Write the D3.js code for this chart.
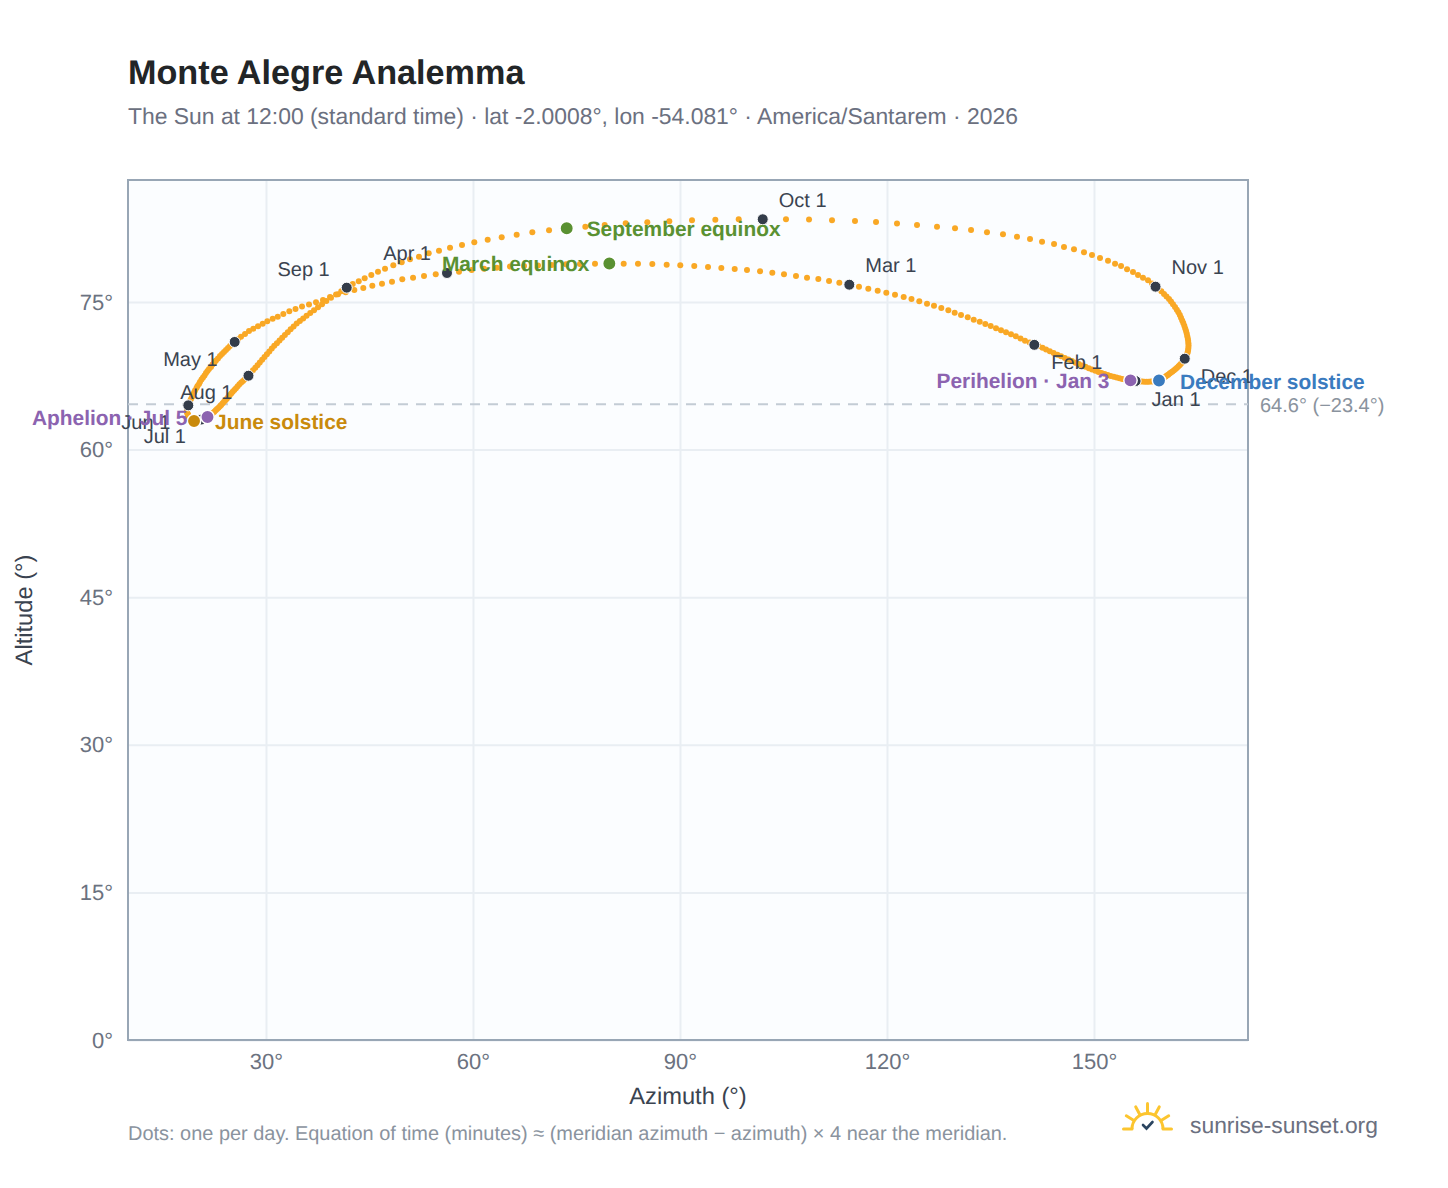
<!DOCTYPE html>
<html><head><meta charset="utf-8">
<script src="https://cdn.jsdelivr.net/npm/d3@7"></script>
<style>html,body{margin:0;padding:0;background:#fff}svg{display:block;font-family:"Liberation Sans",Arial,sans-serif;text-rendering:geometricPrecision}</style>
</head><body><svg id="c" width="1448" height="1188"></svg>
<script>
const titleText = "Monte Alegre Analemma";
const subtitleText = "The Sun at 12:00 (standard time) · lat -2.0008°, lon -54.081° · America/Santarem · 2026";
const footerText = "Dots: one per day. Equation of time (minutes) ≈ (meridian azimuth − azimuth) × 4 near the meridian.";
const brandText = "sunrise-sunset.org";
const xTicks = [30,60,90,120,150];
const yTicks = [0,15,30,45,60,75];
const monthNames = ["Jan","Feb","Mar","Apr","May","Jun","Jul","Aug","Sep","Oct","Nov","Dec"];

// Daily azimuth (degrees), month by month
const azJan = [156.03,155.70,155.29,154.89,154.50,154.09,153.70,153.28,152.86,152.42,151.99,151.55,151.10,150.65,150.19,149.71,149.25,148.77,148.29,147.80,147.31,146.80,146.29,145.77,145.23,144.70,144.15,143.60,143.05,142.54,141.96];
const azFeb = [141.35,140.67,140.00,139.35,138.67,137.97,137.25,136.52,135.80,135.03,134.25,133.44,132.57,131.70,130.73,129.81,128.89,127.87,126.81,125.80,124.68,123.55,122.42,121.16,119.90,118.65,117.29,115.94];
const azMar = [114.54,113.09,111.60,110.05,108.41,106.81,105.07,103.38,101.60,99.71,97.93,95.99,94.06,92.07,90.04,88.07,85.99,83.91,81.84,79.76,77.68,75.51,73.48,71.41,69.42,67.39,65.36,63.44,61.60,59.81,57.97];
const azApr = [56.23,54.60,52.90,51.31,49.75,48.26,46.81,45.41,44.10,42.80,41.55,40.44,39.28,38.26,37.25,36.23,35.22,34.28,33.38,32.51,31.70,30.97,30.19,29.52,28.84,28.16,27.54,26.96,26.38,25.94];
const azMay = [25.46,25.15,24.78,24.49,24.20,23.91,23.62,23.33,23.04,22.75,22.54,22.25,22.03,21.74,21.52,21.30,21.09,20.87,20.65,20.43,20.29,20.07,19.93,19.71,19.57,19.42,19.28,19.13,18.99,18.91,18.84];
const azJun = [18.74,18.67,18.61,18.58,18.55,18.55,18.55,18.58,18.62,18.67,18.72,18.78,18.87,18.94,19.03,19.11,19.20,19.29,19.39,19.48,19.57,19.65,19.74,19.83,19.91,20.00,20.10,20.20,20.32,20.45];
const azJul = [20.58,20.80,21.01,21.26,21.52,21.74,21.93,22.13,22.32,22.52,22.72,22.91,23.12,23.32,23.51,23.71,23.91,24.12,24.32,24.52,24.74,24.96,25.17,25.41,25.65,25.90,26.15,26.41,26.67,26.93,27.20];
const azAug = [27.46,27.81,28.12,28.45,28.77,29.10,29.44,29.78,30.13,30.48,30.84,31.20,31.58,31.96,32.35,32.74,33.15,33.57,34.00,34.45,34.91,35.39,35.88,36.41,36.96,37.54,38.12,38.74,39.42,40.15,40.91];
const azSep = [41.70,42.57,43.44,44.30,45.26,46.23,47.25,48.45,49.67,50.87,52.17,53.58,55.07,56.67,58.41,60.19,62.13,64.16,66.33,68.60,71.02,73.58,76.28,79.09,82.13,85.26,88.45,91.74,95.12,98.51];
const azOct = [101.99,105.36,108.70,112.03,115.36,118.41,121.45,124.35,127.25,129.86,132.18,134.49,136.81,138.84,140.73,142.47,144.21,145.65,147.10,148.55,149.71,150.87,152.03,153.05,153.92,154.79,155.65,156.38,157.10,157.83,158.41];
const azNov = [158.92,159.35,159.76,160.15,160.51,160.87,161.16,161.45,161.74,162.00,162.23,162.44,162.61,162.78,162.94,163.09,163.22,163.34,163.44,163.52,163.60,163.65,163.68,163.70,163.68,163.65,163.60,163.52,163.42,163.29];
const azDec = [163.15,162.99,162.81,162.63,162.44,162.25,162.03,161.82,161.60,161.38,161.16,160.96,160.76,160.57,160.39,160.22,160.05,159.89,159.73,159.57,159.42,159.13,158.84,158.55,158.25,157.94,157.64,157.32,157.00,156.67,156.35];

// Daily altitude (degrees), month by month
const altJan = [66.97,66.99,67.04,67.08,67.13,67.18,67.25,67.32,67.40,67.49,67.58,67.69,67.79,67.90,68.02,68.14,68.27,68.42,68.56,68.70,68.84,69.00,69.15,69.31,69.48,69.65,69.82,69.99,70.18,70.35,70.53];
const altFeb = [70.65,70.88,71.07,71.29,71.53,71.73,71.93,72.14,72.34,72.56,72.77,73.00,73.20,73.45,73.68,73.92,74.16,74.39,74.63,74.83,75.07,75.31,75.51,75.74,75.95,76.15,76.35,76.56];
const altMar = [76.76,76.96,77.14,77.34,77.47,77.65,77.82,77.98,78.12,78.26,78.36,78.46,78.56,78.66,78.73,78.79,78.86,78.90,78.90,78.92,78.90,78.86,78.83,78.76,78.71,78.66,78.61,78.49,78.39,78.26,78.08];
const altApr = [77.95,77.82,77.65,77.47,77.31,77.07,76.86,76.66,76.43,76.22,75.99,75.79,75.51,75.21,74.97,74.75,74.55,74.29,74.06,73.78,73.51,73.31,73.04,72.80,72.53,72.29,72.06,71.75,71.48,71.21];
const altMay = [70.94,70.73,70.53,70.33,70.12,69.92,69.72,69.51,69.26,69.06,68.85,68.65,68.40,68.19,67.99,67.79,67.53,67.33,67.13,66.87,66.67,66.47,66.26,66.01,65.81,65.55,65.35,65.14,64.94,64.79,64.64];
const altJun = [64.50,64.40,64.28,64.18,64.08,63.98,63.87,63.77,63.67,63.57,63.50,63.42,63.34,63.26,63.19,63.13,63.08,63.03,62.99,62.95,62.91,62.91,62.91,62.92,62.93,62.94,62.96,62.98,63.00,63.02];
const altJul = [63.05,63.11,63.17,63.24,63.32,63.42,63.52,63.62,63.74,63.86,63.99,64.13,64.26,64.40,64.54,64.70,64.86,65.02,65.18,65.35,65.52,65.69,65.88,66.06,66.24,66.44,66.63,66.81,66.97,67.16,67.34];
const altAug = [67.51,67.82,68.06,68.33,68.58,68.85,69.13,69.41,69.70,69.98,70.28,70.56,70.82,71.09,71.36,71.64,71.92,72.22,72.52,72.81,73.06,73.33,73.60,73.89,74.17,74.47,74.78,75.10,75.44,75.76,76.09];
const altSep = [76.46,76.83,77.11,77.41,77.75,78.08,78.39,78.73,79.04,79.34,79.61,79.95,80.22,80.52,80.80,81.07,81.33,81.58,81.84,82.09,82.29,82.49,82.65,82.83,83.01,83.10,83.20,83.31,83.37,83.41];
const altOct = [83.41,83.41,83.39,83.31,83.24,83.13,82.98,82.83,82.65,82.49,82.32,82.09,81.88,81.64,81.41,81.13,80.90,80.59,80.36,80.05,79.78,79.47,79.20,78.89,78.66,78.33,78.05,77.75,77.47,77.21,76.88];
const altNov = [76.56,76.32,76.09,75.82,75.56,75.31,75.05,74.78,74.49,74.22,73.95,73.68,73.41,73.13,72.87,72.59,72.32,72.06,71.79,71.53,71.27,71.04,70.81,70.58,70.36,70.14,69.94,69.76,69.57,69.39];
const altDec = [69.24,69.07,68.91,68.74,68.60,68.46,68.32,68.19,68.06,67.94,67.83,67.73,67.62,67.52,67.43,67.35,67.28,67.21,67.14,67.08,67.02,66.98,66.95,66.93,66.91,66.90,66.90,66.90,66.91,66.92,66.94];

const solsticeAltitude = 64.6;
const solsticeLabel = "64.6° (−23.4°)";
// Special days: [month index, day of month]
const eventNames = ["March equinox","June solstice","September equinox","December solstice","Perihelion · Jan 3","Aphelion · Jul 5"];
const eventMonths = [2,5,8,11,0,6];
const eventDays = [20,21,22,21,3,5];

// ---------------- drawing ----------------
const azByMonth = [azJan,azFeb,azMar,azApr,azMay,azJun,azJul,azAug,azSep,azOct,azNov,azDec];
const altByMonth = [altJan,altFeb,altMar,altApr,altMay,altJun,altJul,altAug,altSep,altOct,altNov,altDec];
const svg = d3.select("#c");
const L=128,R=1248,T=180,B=1040;
const x = d3.scaleLinear().domain([10,172.32]).range([L,R]);
const y = d3.scaleLinear().domain([0,87.4]).range([B,T]);
const F = (m,d)=>({az:azByMonth[m][d-1],alt:altByMonth[m][d-1]});
const days = azByMonth.flatMap((arr,m)=>arr.map((a,i)=>({az:a,alt:altByMonth[m][i]})));

const INK="#222527", SUB="#6b7080", TICK="#6b7280", AX="#3a4350", DARK="#333c4a", ORANGE="#f9a825";

svg.append("rect").attr("width",1448).attr("height",1188).attr("fill","#fff");
svg.append("rect").attr("x",L).attr("y",T).attr("width",R-L).attr("height",B-T).attr("fill","#fbfdff");

const gx = svg.append("g").attr("transform",`translate(0,${B})`)
  .call(d3.axisBottom(x).tickValues(xTicks).tickFormat(d=>d+"°").tickSize(-(B-T)).tickPadding(13));
const gy = svg.append("g").attr("transform",`translate(${L},0)`)
  .call(d3.axisLeft(y).tickValues(yTicks).tickFormat(d=>d+"°").tickSize(-(R-L)).tickPadding(15));
[gx,gy].forEach(g=>{
  g.select(".domain").remove();
  g.selectAll(".tick line").attr("stroke","#e9eef3").attr("stroke-width",2);
  g.selectAll("text").attr("fill",TICK).attr("font-size",22).attr("font-family","Liberation Sans, Arial, sans-serif");
});
svg.append("rect").attr("x",L).attr("y",T).attr("width",R-L).attr("height",B-T)
  .attr("fill","none").attr("stroke","#98a6b5").attr("stroke-width",2);

svg.append("line").attr("x1",L).attr("x2",R).attr("y1",y(solsticeAltitude)).attr("y2",y(solsticeAltitude))
  .attr("stroke","#c3ccd5").attr("stroke-width",2).attr("stroke-dasharray","10 8");
svg.append("text").attr("x",1260).attr("y",y(solsticeAltitude)+8).attr("font-size",20).attr("fill","#8a939e").text(solsticeLabel);

svg.append("g").selectAll("circle").data(days).join("circle")
  .attr("cx",d=>x(d.az)).attr("cy",d=>y(d.alt)).attr("r",3).attr("fill",ORANGE);

// month-start markers
const monthPts = monthNames.map((n,m)=>({...F(m,1),name:n+" 1",m}));
svg.append("g").selectAll("circle").data(monthPts).join("circle")
  .attr("cx",d=>x(d.az)).attr("cy",d=>y(d.alt)).attr("r",5.5).attr("fill",DARK).attr("stroke","#fff").attr("stroke-width",1);

// special-day markers
const evColors = ["#5a9132","#c98a0c","#5a9132","#3a7bbf","#8c63b0","#8c63b0"];
const evPts = eventNames.map((n,i)=>({...F(eventMonths[i],eventDays[i]),name:n,color:evColors[i]}));
svg.append("g").selectAll("circle").data(evPts).join("circle")
  .attr("cx",d=>x(d.az)).attr("cy",d=>y(d.alt)).attr("r",6.7).attr("fill",d=>d.color).attr("stroke","#fff").attr("stroke-width",1.5);

// month labels: [dx, dy of baseline, anchor]
const monthPlace = [[16,25,"start"],[17,24,"start"],[16,-13,"start"],[-16,-13,"end"],[-17,24,"end"],[-18,24,"end"],[-15,23,"end"],[-16,23,"end"],[-17,-12,"end"],[16,-12,"start"],[16,-13,"start"],[16,24,"start"]];
svg.append("g").selectAll("text").data(monthPts).join("text")
  .attr("x",d=>x(d.az)+monthPlace[d.m][0]).attr("y",d=>y(d.alt)+monthPlace[d.m][1])
  .attr("text-anchor",d=>monthPlace[d.m][2]).attr("font-size",20).attr("fill",AX).text(d=>d.name);

// event labels
const evAnchor = ["end","start","start","start","end","end"];
const evDx = [-20,21,20,21,-21,-20];
const evDy = [8,8,8,8,8,8];
svg.append("g").selectAll("text").data(evPts).join("text")
  .attr("x",(d,i)=>x(d.az)+evDx[i]).attr("y",(d,i)=>y(d.alt)+evDy[i])
  .attr("text-anchor",(d,i)=>evAnchor[i]).attr("font-size",20.9).attr("font-weight",700)
  .attr("fill",d=>d.color).text(d=>d.name);

// titles
svg.append("text").attr("x",128).attr("y",84).attr("font-size",34.2).attr("font-weight",700).attr("fill",INK).text(titleText);
svg.append("text").attr("x",128).attr("y",124).attr("font-size",22.9).attr("fill",SUB).text(subtitleText);
svg.append("text").attr("x",688).attr("y",1104).attr("text-anchor","middle").attr("font-size",23.7).attr("fill",AX).text("Azimuth (°)");
svg.append("text").attr("transform","translate(32,610) rotate(-90)").attr("text-anchor","middle").attr("font-size",23.7).attr("fill",AX).text("Altitude (°)");
svg.append("text").attr("x",128).attr("y",1140).attr("font-size",19.95).attr("fill","#8a939e").text(footerText);

// brand mark
const logo = svg.append("g").attr("transform","translate(1147.5,1129)").attr("fill","none").attr("stroke","#fcc52f").attr("stroke-width",3).attr("stroke-linecap","round");
logo.append("path").attr("d",d3.arc()({innerRadius:15.5,outerRadius:15.5,startAngle:-Math.PI/2,endAngle:Math.PI/2}));
logo.append("path").attr("d","M-24,0H-15.5M15.5,0H24");
[-58,-28,0,28,58].forEach(a=>{
  const r=a*Math.PI/180, r2=a==0?25.5:25;
  logo.append("line").attr("x1",17*Math.sin(r)).attr("y1",-17*Math.cos(r)).attr("x2",r2*Math.sin(r)).attr("y2",-r2*Math.cos(r));
});
logo.append("path").attr("d","M-4.5,-4L-1,-0.5L5,-7").attr("stroke","#2b4560").attr("stroke-width",2.6);
svg.append("text").attr("x",1190).attr("y",1133).attr("font-size",22.85).attr("fill",SUB).text(brandText);
</script></body></html>
